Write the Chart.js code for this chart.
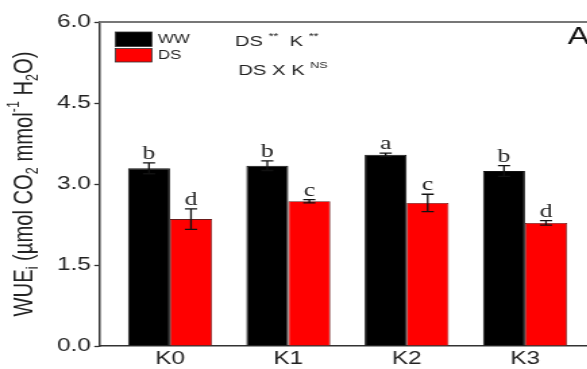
<!DOCTYPE html>
<html><head><meta charset="utf-8">
<script src="https://cdn.jsdelivr.net/npm/chart.js@4"></script>
<style>
html,body{margin:0;padding:0;overflow:hidden;background:#fff;width:587px;height:369px}
#wrap{width:444px;height:369px;transform:scaleX(1.35);transform-origin:0 0;}
</style></head><body><div id="wrap"><canvas id="c" width="444" height="369"></canvas></div>
<script>
const categories = ['K0', 'K1', 'K2', 'K3'];
const wwValues = [3.29, 3.34, 3.54, 3.24];
const dsValues = [2.35, 2.68, 2.65, 2.28];
const wwErrors = [0.10, 0.09, 0.03, 0.10];
const dsErrors = [0.19, 0.03, 0.16, 0.04];
const wwLetters = ['b', 'b', 'a', 'b'];
const dsLetters = ['d', 'c', 'c', 'd'];
const yTicks = [0, 1.5, 3.0, 4.5, 6.0];
const seriesNames = ['WW', 'DS'];

const SANS = '"Liberation Sans", Arial, sans-serif';
const SERIF = '"Liberation Serif", "Times New Roman", serif';

const errs = [wwErrors, dsErrors];
const letters = [wwLetters, dsLetters];

const errorPlugin = {
  id: 'errs',
  afterDatasetsDraw(chart) {
    const ctx = chart.ctx, ys = chart.scales.y;
    chart.data.datasets.forEach((ds, di) => {
      const meta = chart.getDatasetMeta(di);
      meta.data.forEach((bar, i) => {
        const v = ds.data[i].y, e = errs[di][i];
        const yt = ys.getPixelForValue(v + e), yb = ys.getPixelForValue(v - e);
        const x = bar.x, cw = 4.5;
        ctx.save();
        ctx.strokeStyle = '#111'; ctx.lineWidth = 1.3;
        ctx.beginPath();
        ctx.moveTo(x, yt); ctx.lineTo(x, yb);
        ctx.moveTo(x - cw, yt); ctx.lineTo(x + cw, yt);
        ctx.moveTo(x - cw, yb); ctx.lineTo(x + cw, yb);
        ctx.stroke();
        ctx.fillStyle = '#1a1a1a';
        ctx.font = '19px ' + SERIF;
        ctx.textAlign = 'center'; ctx.textBaseline = 'alphabetic';
        ctx.fillText(letters[di][i], x, yt - 4);
        ctx.restore();
      });
    });
  }
};

function drawRich(ctx, parts, x, y, size) {
  let cx = x;
  parts.forEach(([t, m]) => {
    const s = m === 'n' ? size : size * 0.62;
    ctx.font = s + 'px ' + SANS;
    const dy = m === 'sub' ? size * 0.28 : m === 'sup' ? -size * 0.4 : 0;
    ctx.fillText(t, cx, y + dy);
    cx += ctx.measureText(t).width;
  });
  return cx - x;
}
function richWidth(ctx, parts, size) {
  let w = 0;
  parts.forEach(([t, m]) => {
    const s = m === 'n' ? size : size * 0.62;
    ctx.font = s + 'px ' + SANS;
    w += ctx.measureText(t).width;
  });
  return w;
}

const decorPlugin = {
  id: 'decor',
  afterDraw(chart) {
    const ctx = chart.ctx, ca = chart.chartArea;
    ctx.save();
    ctx.strokeStyle = '#777'; ctx.lineWidth = 2;
    ctx.beginPath(); ctx.moveTo(ca.left, ca.top); ctx.lineTo(ca.right, ca.top); ctx.stroke();
    const title = [['WUE', 'n'], ['i', 'sub'], [' (\u00b5mol CO', 'n'], ['2', 'sub'], [' mmol', 'n'], ['-1', 'sup'], [' H', 'n'], ['2', 'sub'], ['O)', 'n']];
    const ts = 20.2;
    const tw = richWidth(ctx, title, ts);
    ctx.translate(18.5, 184);
    ctx.rotate(-Math.PI / 2);
    ctx.fillStyle = '#222'; ctx.textBaseline = 'middle'; ctx.textAlign = 'left';
    drawRich(ctx, title, -tw / 2, 0, ts);
    ctx.restore();

    ctx.save();
    const colors = chart.data.datasets.map(d => d.backgroundColor);
    const lx = 85.5, lw = 27;
    [[32, 46.5], [48.5, 62]].forEach(([t, b], i) => {
      ctx.fillStyle = colors[i];
      ctx.fillRect(lx, t, lw, b - t);
      ctx.strokeStyle = '#333'; ctx.lineWidth = 0.8;
      ctx.strokeRect(lx, t, lw, b - t);
      ctx.fillStyle = '#222'; ctx.font = '12.5px ' + SANS;
      ctx.textBaseline = 'middle'; ctx.textAlign = 'left';
      ctx.fillText(seriesNames[i], 117, (t + b) / 2 + 0.5);
    });
    ctx.fillStyle = '#222'; ctx.textBaseline = 'middle';
    drawRich(ctx, [['DS ', 'n'], ['**', 'sup'], ['  K ', 'n'], ['**', 'sup']], 174, 42, 15);
    drawRich(ctx, [['DS X K ', 'n'], ['NS', 'sup']], 176.5, 71, 15);
    ctx.font = '24px ' + SANS; ctx.fillStyle = '#111';
    ctx.fillText('A', 420.5, 37);
    ctx.restore();
  }
};

new Chart(document.getElementById('c'), {
  type: 'bar',
  data: {
    datasets: [
      { label: seriesNames[0], data: wwValues.map((v, i) => ({ x: i + 1, y: v })), backgroundColor: '#000000', borderColor: '#111', borderWidth: 1 },
      { label: seriesNames[1], data: dsValues.map((v, i) => ({ x: i + 1, y: v })), backgroundColor: '#ff0000', borderColor: '#6a1a1a', borderWidth: 0.8 }
    ]
  },
  options: {
    responsive: false,
    animation: false,
    devicePixelRatio: 1,
    layout: { padding: { left: 0, right: 2.5, top: 22, bottom: 0 } },
    plugins: { legend: { display: false }, tooltip: { enabled: false } },
    datasets: { bar: { categoryPercentage: 0.71, barPercentage: 1.0 } },
    scales: {
      x: {
        type: 'linear', min: 0.4, max: 4.6, offset: false,
        afterBuildTicks(s) { s.ticks = categories.map((c, i) => ({ value: i + 1 })); },
        afterFit(s) { s.height = 23; },
        ticks: { callback: v => categories[v - 1] ?? '', font: { family: SANS, size: 18 }, color: '#222', padding: 2.5, maxRotation: 0, autoSkip: false },
        grid: { drawOnChartArea: false, drawTicks: false },
        border: { display: true, color: '#333', width: 1.5 }
      },
      y: {
        min: 0, max: 6,
        afterBuildTicks(s) { s.ticks = yTicks.map(v => ({ value: v })); },
        afterFit(s) { s.width = 73.3; },
        ticks: { callback: v => v.toFixed(1), font: { family: SANS, size: 18 }, color: '#222', padding: 2.5 },
        grid: { drawOnChartArea: false, drawTicks: true, tickLength: 3.5, color: '#333', tickWidth: 1.3 },
        border: { display: true, color: '#333', width: 1.5 }
      }
    }
  },
  plugins: [errorPlugin, decorPlugin]
});
</script></body></html>
